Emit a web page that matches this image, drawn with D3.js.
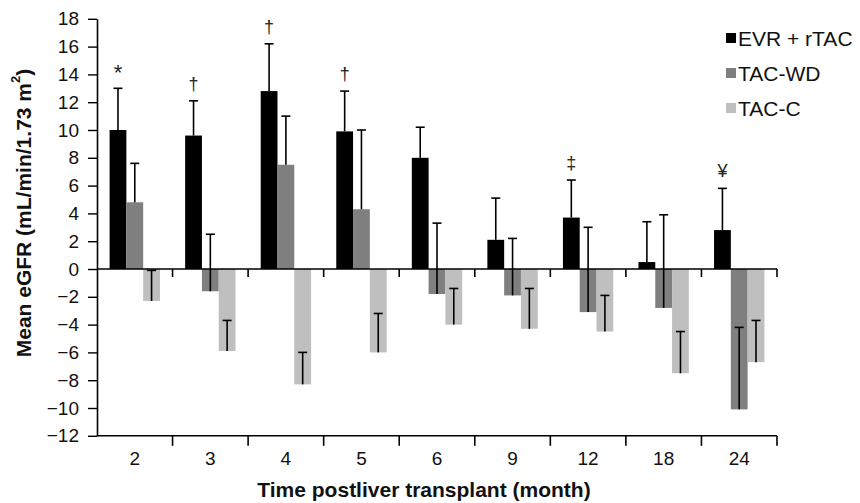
<!DOCTYPE html>
<html>
<head>
<meta charset="utf-8">
<script src="https://cdn.jsdelivr.net/npm/d3@7"></script>
<style>
  html, body { margin: 0; padding: 0; background: #fff; }
  svg { display: block; }
</style>
</head>
<body>
<svg id="chart" width="860" height="503"></svg>
<script>
// ---- data ----
const months = ["2", "3", "4", "5", "6", "9", "12", "18", "24"];
const seriesNames = ["EVR + rTAC", "TAC-WD", "TAC-C"];
const evrValues = [10.0, 9.6, 12.8, 9.9, 8.0, 2.1, 3.7, 0.5, 2.8];
const evrErrors = [3.0, 2.5, 3.4, 2.9, 2.2, 3.0, 2.7, 2.9, 3.0];
const wdValues  = [4.8, -1.6, 7.5, 4.3, -1.8, -1.9, -3.1, -2.8, -10.1];
const wdErrors  = [2.8, 4.1, 3.5, 5.7, 5.1, 4.1, 6.1, 6.7, 5.9];
const tcValues  = [-2.3, -5.9, -8.3, -6.0, -4.0, -4.3, -4.5, -7.5, -6.7];
const tcErrors  = [2.2, 2.2, 2.3, 2.8, 2.6, 2.9, 2.6, 3.0, 3.0];
const significance = ["*", "†", "†", "†", "", "", "‡", "", "¥"];
const yTicks = [-12, -10, -8, -6, -4, -2, 0, 2, 4, 6, 8, 10, 12, 14, 16, 18];
const colors = ["#000000", "#7f7f7f", "#bfbfbf"];

const valueSets = [evrValues, wdValues, tcValues];
const errorSets = [evrErrors, wdErrors, tcErrors];

const svg = d3.select("#chart");
const font = "'Liberation Sans', Arial, sans-serif";

const y = d3.scaleLinear().domain([-12, 18]).range([435.8, 18.8]);
const x0 = d3.scaleBand().domain(months).range([97, 777]).paddingInner(1/3).paddingOuter(1/6);
const x1 = d3.scaleBand().domain(seriesNames).range([0, x0.bandwidth()]);

const bars = [];
months.forEach((m, i) => {
  seriesNames.forEach((s, j) => {
    bars.push({ m, s, j, v: valueSets[j][i], e: errorSets[j][i] });
  });
});

// bars
svg.append("g").selectAll("rect").data(bars).join("rect")
  .attr("x", d => x0(d.m) + x1(d.s))
  .attr("width", x1.bandwidth())
  .attr("y", d => y(Math.max(0, d.v)))
  .attr("height", d => Math.abs(y(d.v) - y(0)))
  .attr("fill", d => colors[d.j]);

// error bars (plus direction)
const eg = svg.append("g").attr("stroke", "#000").attr("stroke-width", 1.6);
bars.forEach(d => {
  const cx = x0(d.m) + x1(d.s) + x1.bandwidth() / 2;
  eg.append("line").attr("x1", cx).attr("x2", cx).attr("y1", y(d.v)).attr("y2", y(d.v + d.e));
  eg.append("line").attr("x1", cx - 4.5).attr("x2", cx + 4.5).attr("y1", y(d.v + d.e)).attr("y2", y(d.v + d.e));
});

// zero line and bottom line with category boundary ticks
const ax = svg.append("g").attr("stroke", "#000").attr("stroke-width", 1.6);
ax.append("line").attr("x1", 97).attr("x2", 777).attr("y1", y(0)).attr("y2", y(0));
ax.append("line").attr("x1", 97).attr("x2", 777).attr("y1", y(-12)).attr("y2", y(-12));
months.forEach((m, i) => {
  const bx = x0(m) - x0.step() * x0.paddingInner() / 2 + x0.step();
  ax.append("line").attr("x1", bx).attr("x2", bx).attr("y1", y(0)).attr("y2", y(0) + 8);
  ax.append("line").attr("x1", bx).attr("x2", bx).attr("y1", y(-12)).attr("y2", y(-12) + 10);
});

// y axis
const yAxis = svg.append("g").attr("transform", "translate(97,0)")
  .call(d3.axisLeft(y).tickValues(yTicks).tickSize(9).tickSizeOuter(0).tickPadding(9).tickFormat(d3.format("d")));
yAxis.select(".domain").attr("stroke", "#000").attr("stroke-width", 1.6);
yAxis.selectAll(".tick line").attr("stroke", "#000").attr("stroke-width", 1.4);
yAxis.selectAll(".tick text").attr("font-family", font).attr("font-size", 19).attr("fill", "#111");

// x labels
const xAxis = svg.append("g").attr("transform", `translate(0,${y(-12)})`)
  .call(d3.axisBottom(x0).tickSize(0).tickPadding(16));
xAxis.select(".domain").remove();
xAxis.selectAll(".tick text").attr("font-family", font).attr("font-size", 19).attr("fill", "#111");

// significance marks
svg.append("g").selectAll("text").data(months.map((m, i) => ({ m, i }))).join("text")
  .attr("x", d => x0(d.m) + x1(seriesNames[0]) + x1.bandwidth() / 2)
  .attr("y", d => y(evrValues[d.i] + evrErrors[d.i]) - (significance[d.i] === "*" ? 8 : 11))
  .attr("text-anchor", "middle")
  .attr("font-family", font).attr("font-size", d => significance[d.i] === "*" ? 22 : 18).attr("fill", "#222")
  .text(d => significance[d.i]);

// axis titles
svg.append("text")
  .attr("transform", "translate(23,213) rotate(-90)")
  .attr("text-anchor", "middle").attr("dominant-baseline", "central")
  .attr("font-family", font).attr("font-size", 21).attr("font-weight", "bold").attr("fill", "#111")
  .html("Mean eGFR (mL/min/1.73 m<tspan baseline-shift='super' font-size='13'>2</tspan>)");

svg.append("text")
  .attr("x", 424).attr("y", 497)
  .attr("text-anchor", "middle")
  .attr("font-family", font).attr("font-size", 21).attr("font-weight", "bold").attr("fill", "#111")
  .text("Time postliver transplant (month)");

// legend
const legendY = [38, 73, 108];
const lg = svg.append("g");
seriesNames.forEach((s, j) => {
  lg.append("rect").attr("x", 726).attr("y", legendY[j] - 5).attr("width", 10).attr("height", 10).attr("fill", colors[j]);
  lg.append("text").attr("x", 738).attr("y", legendY[j]).attr("dominant-baseline", "central")
    .attr("font-family", font).attr("font-size", 21).attr("fill", "#111").text(s);
});
</script>
</body>
</html>
